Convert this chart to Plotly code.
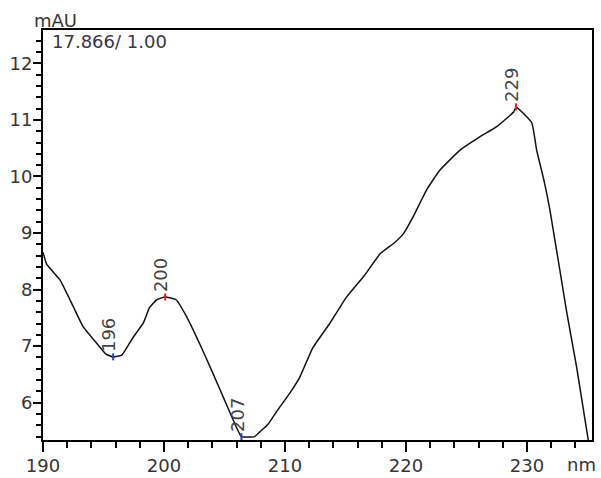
import plotly.graph_objects as go

# Spectrum data
wavelength = [190.0, 190.3, 191.4, 192.5, 193.3, 194.4, 195.2, 195.8, 196.5, 196.8,
              197.5, 198.3, 198.8, 199.4, 200.1, 201.0, 201.9, 203.0, 204.0, 205.0,
              206.0, 206.4, 207.5, 207.9, 208.6, 209.3, 210.4, 211.2, 212.3, 213.7,
              215.1, 216.5, 217.9, 219.0, 219.8, 220.6, 221.7, 222.8, 224.5, 226.1,
              227.5, 228.9, 229.1, 230.4, 230.8, 231.4, 231.9, 233.3, 234.1, 235.1]
absorbance = [8.66, 8.45, 8.17, 7.70, 7.35, 7.06, 6.86, 6.81, 6.84, 6.93,
              7.17, 7.41, 7.68, 7.82, 7.87, 7.82, 7.51, 7.02, 6.54, 6.05,
              5.56, 5.40, 5.40, 5.48, 5.62, 5.84, 6.17, 6.44, 6.97, 7.40,
              7.87, 8.23, 8.64, 8.82, 8.99, 9.29, 9.76, 10.11, 10.47, 10.70,
              10.88, 11.14, 11.23, 10.95, 10.47, 9.94, 9.41, 7.59, 6.64, 5.30]

# Labelled extrema
peak_wl = [195.8, 200.1, 206.4, 229.1]
peak_abs = [6.81, 7.87, 5.40, 11.23]
peak_text = ["196", "200", "207", "229"]
peak_color = ["#2b3fc8", "#e0221c", "#2b3fc8", "#e0221c"]

x_ticks = [190, 200, 210, 220, 230]
y_ticks = [6, 7, 8, 9, 10, 11, 12]

FONT = "DejaVu Sans"
TXT = "#353535"

fig = go.Figure()
fig.add_trace(go.Scatter(x=wavelength, y=absorbance, mode="lines",
                         line=dict(color="#111111", width=1.5, shape="spline", smoothing=0.4),
                         hoverinfo="skip", showlegend=False))
fig.add_trace(go.Scatter(x=peak_wl, y=peak_abs, mode="markers",
                         marker=dict(symbol="line-ns-open", size=5, color=peak_color,
                                     line=dict(color=peak_color, width=2)),
                         showlegend=False, hoverinfo="skip"))

for wl, ab, t in zip(peak_wl, peak_abs, peak_text):
    fig.add_annotation(x=wl, y=ab, text=t, textangle=-90, showarrow=False,
                       xanchor="center", yanchor="bottom", xshift=-4, yshift=3,
                       font=dict(family=FONT, size=18, color="#444444"))

fig.add_annotation(xref="paper", yref="paper", x=-0.02, y=1, xanchor="left",
                   yanchor="bottom", yshift=-3, text="mAU", showarrow=False,
                   font=dict(family=FONT, size=18, color=TXT))
fig.add_annotation(xref="paper", yref="paper", x=0.012, y=1, xanchor="left",
                   yanchor="top", yshift=1, text="17.866/ 1.00", showarrow=False,
                   font=dict(family=FONT, size=18, color="#3a3545"))
fig.add_annotation(xref="paper", yref="paper", x=0.95, y=0, xanchor="left",
                   yanchor="top", yshift=-12, text="nm", showarrow=False,
                   font=dict(family=FONT, size=18, color=TXT))

fig.update_xaxes(range=[190, 235.38], tickvals=x_ticks, ticktext=[str(v) for v in x_ticks],
                 ticks="outside", ticklen=10, tickwidth=1.5, tickcolor="black",
                 minor=dict(dtick=2, tick0=190, ticks="outside", ticklen=6,
                            tickwidth=1.5, tickcolor="black"),
                 showline=True, linewidth=2, linecolor="black", mirror=True,
                 showgrid=False, zeroline=False, ticklabelstandoff=-2, automargin=False,
                 tickfont=dict(family=FONT, size=18, color=TXT))
fig.update_yaxes(range=[5.34, 12.59], tickvals=y_ticks, ticktext=[str(v) for v in y_ticks],
                 ticks="outside", ticklen=8, tickwidth=1.5, tickcolor="black",
                 minor=dict(dtick=0.2, tick0=5, ticks="outside", ticklen=5,
                            tickwidth=1.5, tickcolor="black"),
                 showline=True, linewidth=2, linecolor="black", mirror=True,
                 showgrid=False, zeroline=False, ticklabelstandoff=-3, automargin=False,
                 tickfont=dict(family=FONT, size=18, color=TXT))

fig.update_layout(width=601, height=478,
                  margin=dict(l=43, r=9, t=30, b=38),
                  plot_bgcolor="white", paper_bgcolor="white")

fig.write_html("out.html")
